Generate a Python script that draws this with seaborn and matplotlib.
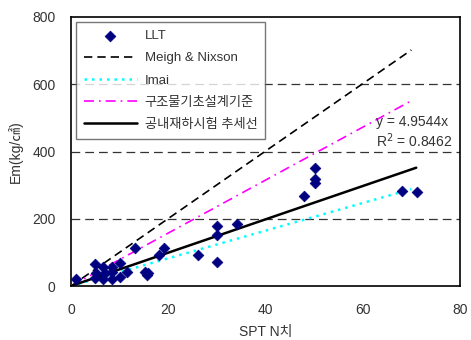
import matplotlib
matplotlib.use("Agg")
import matplotlib.pyplot as plt
import seaborn as sns
import pandas as pd
import numpy as np

# LLT data points (SPT N, Em)
spt_n = [1, 4.9, 6.6, 8.4, 10.1, 5.1, 7, 8.4, 6.6, 8.4, 10.1, 5, 11.5,
         13.2, 15.2, 15.9, 15.6, 18, 19.2, 26.2, 30, 30, 30, 34.1,
         48, 50.2, 50.2, 50.2, 68, 71.1]
em = [21, 65, 57, 56, 69, 38, 38, 43, 20, 20, 28, 24, 43,
      112, 43, 38, 33, 92, 112, 93, 72, 152, 178, 184,
      268, 350, 318, 307, 282, 279]

# Reference lines (endpoints)
meigh_x = [0, 70]
meigh_y = [0, 702]
imai_x = [0, 70]
imai_y = [0, 288]
kds_x = [0, 70]
kds_y = [0, 551]
trend_x = [0, 71]
trend_y = [0, 351.8]

labels = ["LLT", "Meigh & Nixson", "Imai", "구조물기초설계기준", "공내재하시험 추세선"]
xticks = [0, 20, 40, 60, 80]
yticks = [0, 200, 400, 600, 800]
grid_y = [200, 400, 600]

sns.set_theme(style="white")
plt.rcParams['font.family'] = ['Liberation Sans', 'Noto Sans CJK KR', 'DejaVu Sans']

fig = plt.figure(figsize=(4.71, 3.40), dpi=100)
ax = fig.add_axes([0.1507, 0.1588, 0.8259, 0.7912])

for gy in grid_y:
    ax.axhline(gy, color="#333333", lw=0.9, ls=(0, (7, 4)), zorder=0)

df = pd.DataFrame({"N": spt_n, "Em": em})
sns.scatterplot(data=df, x="N", y="Em", ax=ax, marker="D", s=30,
                color="#000080", edgecolor="#000080", linewidth=0.5,
                label=labels[0], zorder=5)
sns.lineplot(x=meigh_x, y=meigh_y, ax=ax, color="black", lw=1.2,
             label=labels[1], zorder=3)
ax.lines[-1].set_linestyle((0, (5, 3)))
sns.lineplot(x=imai_x, y=imai_y, ax=ax, color="#00FFFF", lw=1.8,
             label=labels[2], zorder=3)
ax.lines[-1].set_linestyle((0, (1, 2)))
sns.lineplot(x=kds_x, y=kds_y, ax=ax, color="#FF00FF", lw=1.2,
             label=labels[3], zorder=3)
ax.lines[-1].set_linestyle((0, (6, 3, 1, 3)))
sns.lineplot(x=trend_x, y=trend_y, ax=ax, color="black", lw=1.8,
             label=labels[4], zorder=4)

ax.set_xlim(0, 80)
ax.set_ylim(0, 800)
ax.set_xticks(xticks)
ax.set_yticks(yticks)
ax.tick_params(direction="in", length=4, width=0.8, colors="black",
               labelcolor="#333333", labelsize=10)
ax.tick_params(axis="x", pad=12)
ax.tick_params(axis="y", pad=11)
for s in ax.spines.values():
    s.set_color("black")
    s.set_linewidth(1.2)

ax.set_xlabel("SPT N치", fontsize=10, color="#333333", labelpad=6)
ax.set_ylabel("Em(kg/㎠)", fontsize=10, color="#333333", labelpad=7)

ax.text(62.8, 476, "y = 4.9544x", fontsize=10, color="#333333")
ax.text(62.8, 412, "R$^2$ = 0.8462", fontsize=10, color="#333333")

leg = ax.legend(loc="upper left", bbox_to_anchor=(0.013, 0.981), frameon=True,
                fancybox=False, edgecolor="#555555", fontsize=9.5,
                handlelength=4.0, labelspacing=0.75, borderpad=0.6,
                handletextpad=0.6, borderaxespad=0)
leg.get_frame().set_linewidth(1.0)
for t in leg.get_texts():
    t.set_color("#333333")

fig.savefig("out.png", dpi=100)
